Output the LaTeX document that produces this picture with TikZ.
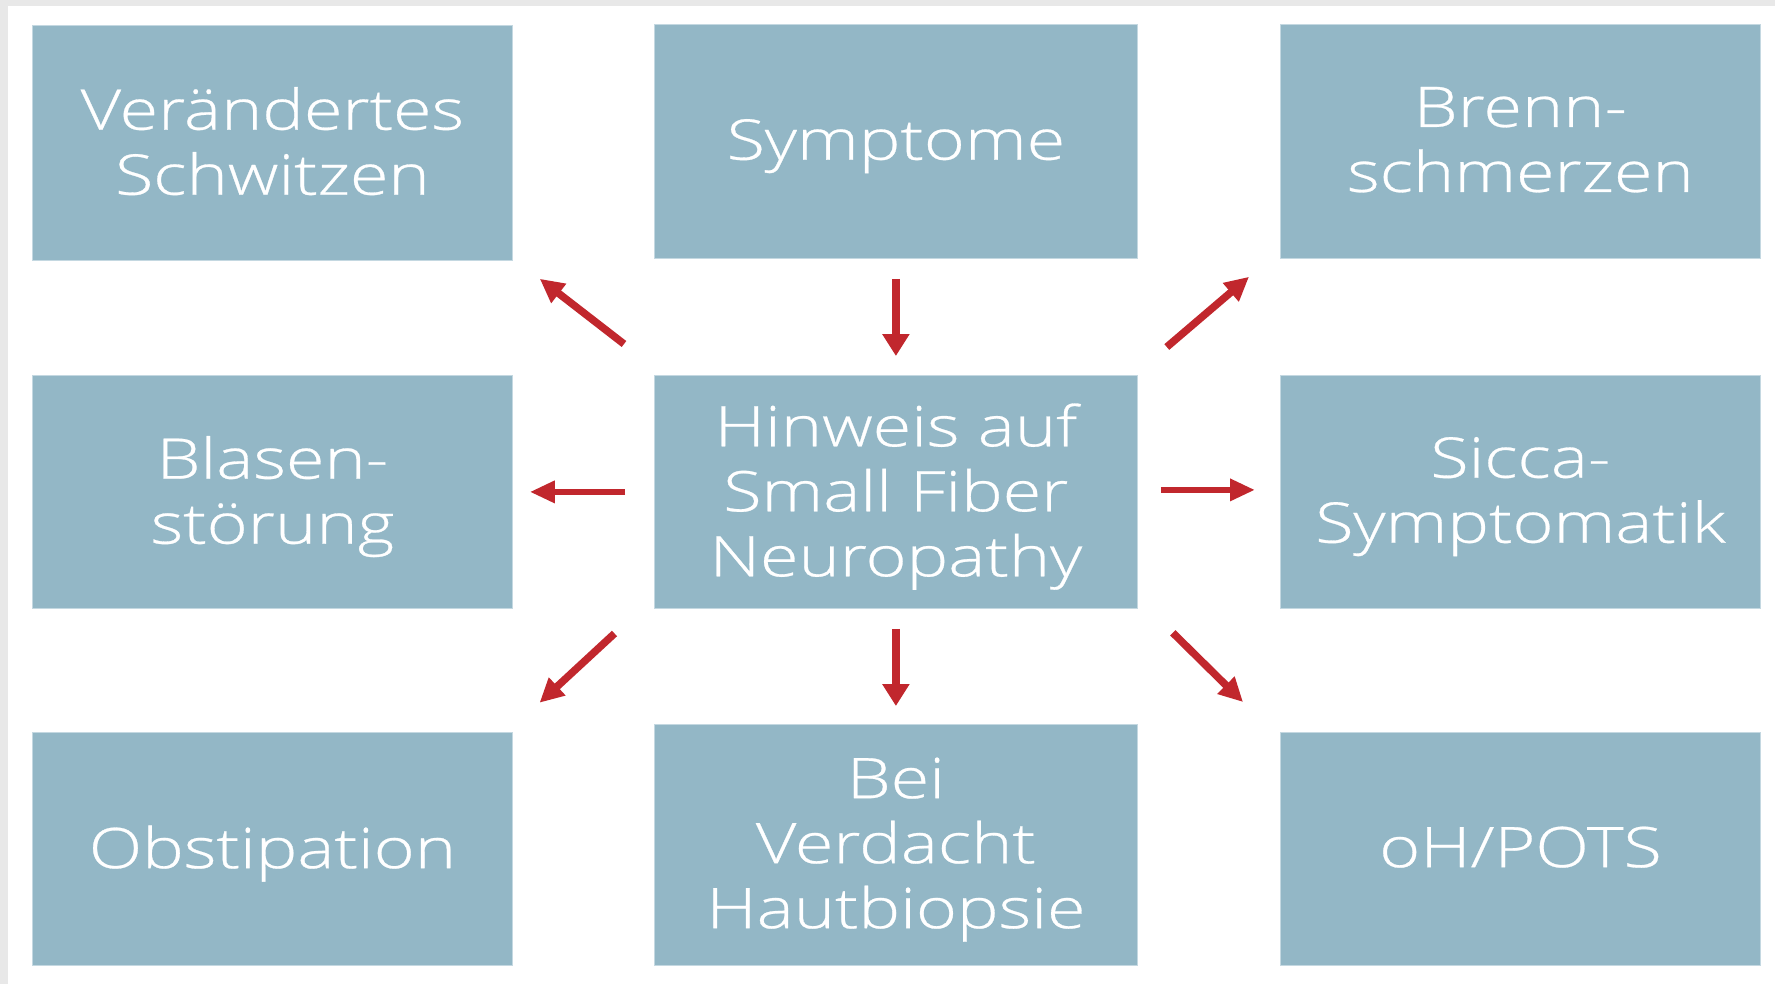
\documentclass[tikz,border=0pt]{standalone}
\usepackage{fontspec}
\setmainfont{Open Sans Light}[FakeStretch=1.25,FakeBold=0.5]
\usetikzlibrary{arrows.meta,calc}
\definecolor{boxfill}{RGB}{147,183,198}
\definecolor{boxedge}{RGB}{196,216,225}
\definecolor{arrred}{RGB}{193,39,45}
\definecolor{framegrey}{RGB}{232,232,232}
\begin{document}
\begin{tikzpicture}[x=1pt,y=-1pt,
  box/.style={rectangle, fill=boxfill, draw=boxedge, line width=0.8pt,
    inner sep=0pt, anchor=north west, text=white, align=center,
    minimum width=480pt, text depth=4pt,
    font=\fontsize{56pt}{65pt}\selectfont},
  box483/.style={box, minimum width=483pt},
  arr/.style={draw=arrred, line width=7.5pt,
    -{Triangle[length=24pt,width=23pt]}, arrred},
  arrv/.style={draw=arrred, line width=8.5pt,
    -{Triangle[length=22pt,width=26pt]}, arrred},
  arrh/.style={draw=arrred, line width=6.5pt,
    -{Triangle[length=25pt,width=21pt]}, arrred}
]
\useasboundingbox (0,0) rectangle (1775,984);
\fill[white] (0,0) rectangle (1775,984);
\fill[framegrey] (0,0) rectangle (1775,6);
\fill[framegrey] (0,0) rectangle (8,984);

\node[box, minimum height=235pt] (ver) at (32,25) {Verändertes\\Schwitzen};
\node[box483, minimum height=234pt] (sym) at (654,24) {Symptome};
\node[box, minimum height=234pt] (bre) at (1280,24) {Brenn-\\schmerzen};

\node[box, minimum height=233pt] (bla) at (32,375) {Blasen-\\störung};
\node[box483, minimum height=233pt] (hin) at (654,375) {Hinweis auf\\Small Fiber\\Neuropathy};
\node[box, minimum height=233pt] (sic) at (1280,375) {Sicca-\\Symptomatik};

\node[box, minimum height=233pt] (obs) at (32,732) {Obstipation};
\node[box483, minimum height=241pt] (bei) at (654,724) {Bei\\Verdacht\\Hautbiopsie};
\node[box, minimum height=233pt] (oh) at (1280,732) {oH/POTS};

\draw[arrv, shorten <=20pt, shorten >=19pt] (sym.south) -- (hin.north);
\draw[arr] ($(hin.north west)+(-30,-31)$) -- ($(ver.south east)+(27,18)$);
\draw[arr] ($(hin.north east)+(29,-28)$) -- ($(bre.south west)+(-31,18)$);
\draw[arrh] ($(hin.west)+(-29,0)$) -- ($(bla.east)+(17,0)$);
\draw[arrh] ($(hin.east)+(23,-2)$) -- ($(sic.west)+(-25,-2)$);
\draw[arr] ($(hin.south west)+(-39.5,24.7)$) -- ($(obs.north east)+(26.8,-29.3)$);
\draw[arrv, shorten <=20pt, shorten >=18pt] (hin.south) -- (bei.north);
\draw[arr] ($(hin.south east)+(35,24)$) -- ($(oh.north west)+(-37,-30)$);
\end{tikzpicture}
\end{document}
